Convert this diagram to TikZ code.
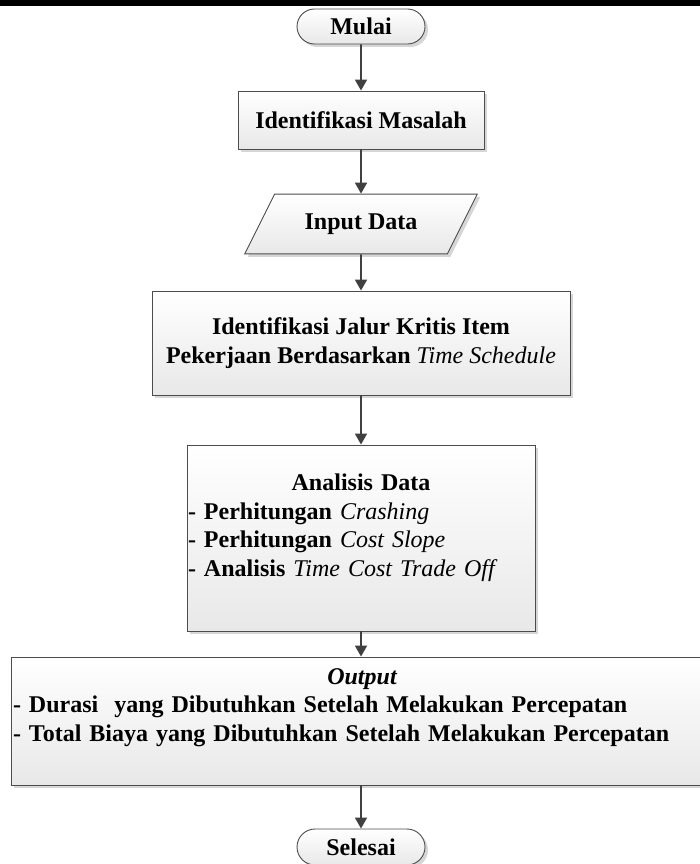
\documentclass[tikz,border=0pt]{standalone}
\usepackage{fontspec}
\setmainfont{Liberation Serif}
\usetikzlibrary{shapes.misc,shapes.geometric,shadows,arrows.meta}

\begin{document}
\begin{tikzpicture}[x=1pt,y=-1pt,
  box/.style={draw=black!70,line width=0.9pt,top color=white,bottom color=black!9,
    drop shadow={shadow xshift=3pt,shadow yshift=-3pt,fill=black!16,opacity=1},
    inner sep=0pt,font=\fontsize{24}{28.5}\selectfont\bfseries},
  term/.style={box,rounded rectangle,minimum width=128pt,minimum height=35pt},
  isi/.style={inner sep=0pt,align=left,font=\fontsize{24}{28.5}\selectfont\bfseries},
  flow/.style={draw=black!75,line width=1.8pt,-{Triangle[length=11pt,width=12pt]}}]

\useasboundingbox (0,0) rectangle (700,864);
\clip (0,0) rectangle (700,864);
\fill[black] (0,0) rectangle (700,6);

\node[term] (mulai) at (361,26.5) {Mulai};
\node[box,minimum width=246pt,minimum height=58pt] (masalah) at (361,120) {Identifikasi Masalah};
\node[box,trapezium,trapezium left angle=63.4,trapezium right angle=116.6,
  inner xsep=30pt,inner ysep=19.5pt] (input) at (361,224) {Input Data};
\node[box,align=center,minimum width=418pt,minimum height=104pt] (jalur) at (361,343)
  {Identifikasi Jalur Kritis Item\\Pekerjaan Berdasarkan {\mdseries\itshape Time Schedule}};
\node[box,minimum width=348pt,minimum height=186pt] (analisis) at (361,538) {};
\node[isi,text width=346pt,anchor=north] (analisis-isi) at (361,474)
  {\makebox[346pt]{Analisis Data}\\
   - Perhitungan {\mdseries\itshape Crashing}\\
   - Perhitungan {\mdseries\itshape Cost Slope}\\
   - Analisis {\mdseries\itshape Time Cost Trade Off}};
\node[box,minimum width=700pt,minimum height=128pt] (output) at (361,721) {};
\node[isi,text width=698pt,anchor=north] (output-isi) at (362,668)
  {\makebox[698pt]{\itshape Output}\\
   - Durasi\ \ yang Dibutuhkan Setelah Melakukan Percepatan\\
   - Total Biaya yang Dibutuhkan Setelah Melakukan Percepatan};
\node[term,minimum height=36pt] (selesai) at (361,847) {Selesai};

\draw[flow] (mulai) -- (masalah);
\draw[flow] (masalah) -- (input);
\draw[flow] (input) -- (jalur);
\draw[flow] (jalur) -- (analisis);
\draw[flow] (analisis) -- (output);
\draw[flow] (output) -- (selesai);

\end{tikzpicture}
\end{document}
